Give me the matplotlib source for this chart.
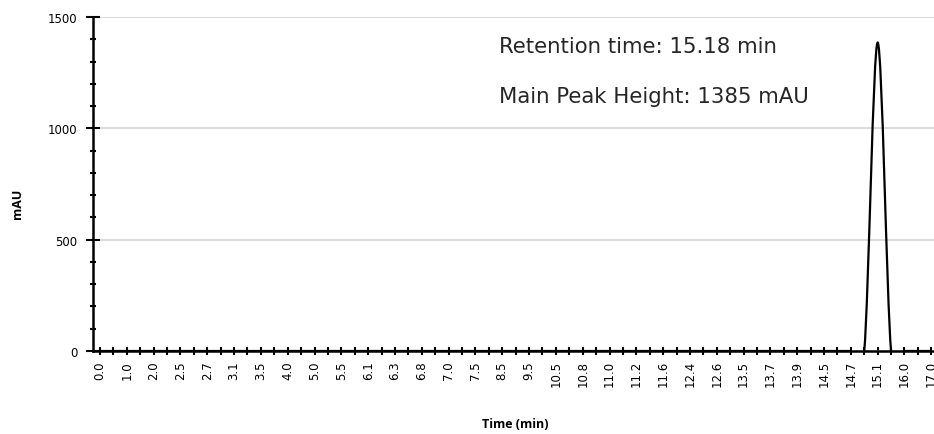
import matplotlib
matplotlib.use("Agg")
import matplotlib.pyplot as plt
from matplotlib.path import Path
from matplotlib.patches import PathPatch
from matplotlib.ticker import MultipleLocator

# visible category labels (every second category on the axis carries a label)
time_labels = ["0.0", "1.0", "2.0", "2.5", "2.7", "3.1", "3.5", "4.0", "5.0", "5.5",
               "6.1", "6.3", "6.8", "7.0", "7.5", "8.5", "9.5", "10.5", "10.8", "11.0",
               "11.2", "11.6", "12.4", "12.6", "13.5", "13.7", "13.9", "14.5", "14.7",
               "15.1", "16.0", "17.0"]

# detector signal (mAU) for each of the 63 categories
signal = [0, 0, 0, 0, 0, 0, 0, 0, 0, 0,
          0, 0, 0, 0, 0, 0, 0, 0, 0, 0,
          0, 0, 0, 0, 0, 0, 0, 0, 0, 0,
          0, 0, 0, 0, 0, 0, 0, 0, 0, 0,
          0, 0, 0, 0, 0, 0, 0, 0, 0, 0,
          0, 0, 0, 0, 0, 0, 0, 0, 1385, 0,
          0, 0, 0]

retention_note = "Retention time: 15.18 min"
height_note = "Main Peak Height: 1385 mAU"


def smooth_path(xs, ys):
    # spreadsheet style smoothed line: Catmull-Rom segments as cubic Beziers
    n = len(xs)
    verts = [(xs[0], ys[0])]
    codes = [Path.MOVETO]
    for i in range(n - 1):
        x0, y0 = xs[max(i - 1, 0)], ys[max(i - 1, 0)]
        x1, y1 = xs[i], ys[i]
        x2, y2 = xs[i + 1], ys[i + 1]
        x3, y3 = xs[min(i + 2, n - 1)], ys[min(i + 2, n - 1)]
        c1 = (x1 + (x2 - x0) / 6.0, y1 + (y2 - y0) / 6.0)
        c2 = (x2 - (x3 - x1) / 6.0, y2 - (y3 - y1) / 6.0)
        verts += [c1, c2, (x2, y2)]
        codes += [Path.CURVE4] * 3
    return Path(verts, codes)


fig = plt.figure(figsize=(9.34, 4.35), dpi=100)
ax = fig.add_axes([93.3 / 934, 83 / 435, (938 - 93.3) / 934, 334 / 435])

positions = list(range(len(signal)))
patch = PathPatch(smooth_path(positions, signal), facecolor="none",
                  edgecolor="black", linewidth=1.6, zorder=3)
ax.add_patch(patch)

ax.set_xlim(-0.5, len(signal) - 0.5)
ax.set_ylim(0, 1500)

ax.set_xticks(positions)
tick_text = [""] * len(signal)
for k, lab in enumerate(time_labels):
    tick_text[2 * k] = lab
ax.set_xticklabels(tick_text, rotation=90, fontsize=8.5, family="DejaVu Sans")

ax.yaxis.set_major_locator(MultipleLocator(500))
ax.yaxis.set_minor_locator(MultipleLocator(100))

ax.tick_params(axis="x", which="major", direction="inout", length=5.8, width=1.5, pad=3.6)
ax.tick_params(axis="y", which="major", direction="inout", length=10, width=1.5, pad=6.5,
               labelsize=8.5)
ax.tick_params(axis="y", which="minor", direction="inout", length=4.3, width=1.5)

ax.grid(True, axis="y", which="major", color="#d4d4d4", linewidth=1.2, zorder=0)
ax.set_axisbelow(True)

for side in ["top", "right"]:
    ax.spines[side].set_visible(False)
for side in ["left", "bottom"]:
    ax.spines[side].set_linewidth(1.8)
    ax.spines[side].set_zorder(4)

fig.text(17 / 934, 1 - 204 / 435, "mAU", rotation=90, ha="center", va="center",
         fontsize=9, fontweight="bold", family="Open Sans")
fig.text(515 / 934, 1 - 425 / 435, "Time (min)", ha="center", va="center",
         fontsize=9, fontweight="bold", family="Open Sans")

fig.text(499 / 934, 1 - 47 / 435, retention_note, ha="left", va="center",
         fontsize=15.3, color="#262626", family="DejaVu Sans")
fig.text(499 / 934, 1 - 97 / 435, height_note, ha="left", va="center",
         fontsize=15.3, color="#262626", family="DejaVu Sans")

fig.savefig("out.png", dpi=100)
